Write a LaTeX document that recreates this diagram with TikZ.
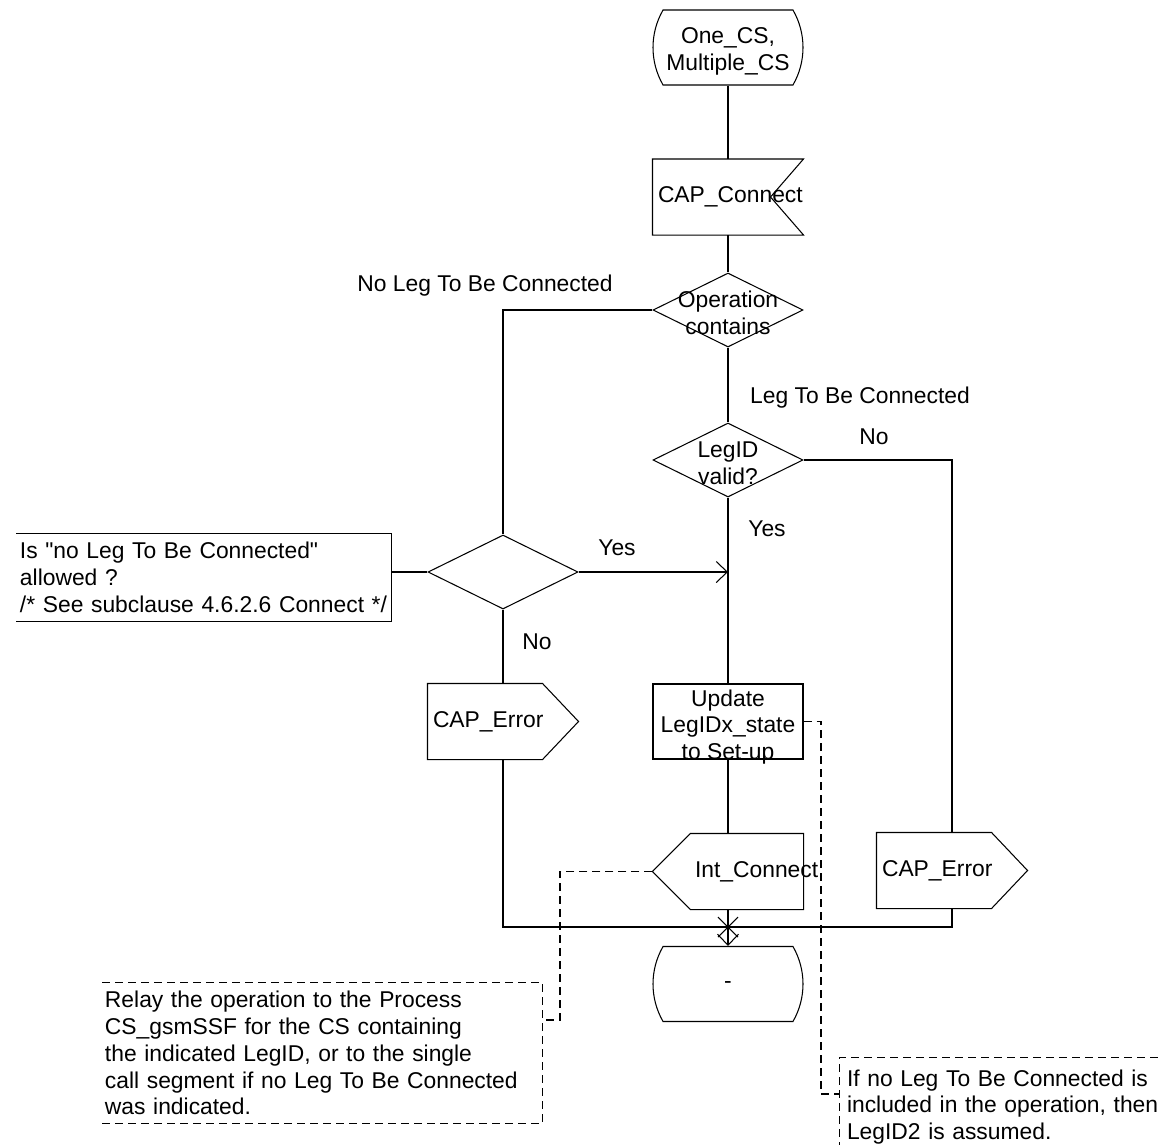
\documentclass[tikz,border=0pt]{standalone}
\usepackage{fontspec}
\setmainfont{Liberation Sans}
\usetikzlibrary{arrows.meta,shapes.geometric,shapes.misc}

\begin{document}
\begin{tikzpicture}[x=0.2mm, y=-0.2mm, line width=0.6pt,
  font=\fontsize{13}{15.3}\selectfont,
  term/.style={draw, rounded rectangle, rounded rectangle arc length=60, minimum width=30mm, minimum height=15mm, inner sep=0pt, align=center},
  sig/.style={minimum width=30mm, minimum height=15mm, inner xsep=1mm, inner ysep=0pt, text width=28mm, align=left},
  task/.style={draw, minimum width=30mm, minimum height=15mm, inner sep=0pt},
  dec/.style={draw, diamond, minimum width=30mm, minimum height=14.8mm, inner sep=0pt},
  lab/.style={align=center},
  note/.style={inner ysep=0pt, align=left},
  cline/.style={dash pattern=on 1.6mm off 1mm},
  arr/.style={-{Straight Barb[length=2.2mm, width=4.2mm]}}]
  \useasboundingbox (0,0) rectangle (1160,1144);
  % start and input signal
  \node[term] (start) at (728,47.5) {};
  \node[lab] (startT) at ([yshift=-0.8mm]start) {One\_CS,\\Multiple\_CS};
  \node[sig, align=center] (conn) at (728,197) {CAP\_Connect};
  \draw (conn.north west) -- (conn.north east) -- ([xshift=-6.6mm]conn.east) -- (conn.south east) -- (conn.south west) -- cycle;
  \draw (start) -- (conn);
  % decisions
  \node[dec] (op) at (728,310) {};
  \node[lab] (opT) at ([yshift=-0.5mm]op) {Operation\\contains};
  \node[dec] (leg) at (728,460) {};
  \node[lab] (legT) at ([yshift=-0.7mm]leg) {LegID\\valid?};
  \node[dec] (ask) at (503,572) {};
  \draw (conn) -- (op);
  \draw (op) -- (leg);
  \draw (op.west) -| (ask);
  \node[lab] (noLeg) at (485,286) {No Leg To Be Connected};
  \node[lab] (isLeg) at (860,398) {Leg To Be Connected};
  \node[lab] (legNo) at (874,437) {No};
  \node[lab] (legYes) at (767,529) {Yes};
  \node[lab] (askYes) at (617,548) {Yes};
  \node[lab] (askNo) at (537,642) {No};
  \node[note, minimum width=74.8mm, minimum height=17.4mm, inner xsep=0.6mm, text width=73.6mm] (cmt1) at (204,577.5)
    {Is \textquotedbl no Leg To Be Connected\textquotedbl\\allowed ?\\/* See subclause 4.6.2.6 Connect */};
  \draw (cmt1.north west) -- (cmt1.north east) -- (cmt1.south east) -- (cmt1.south west);
  \draw (ask.west) -- (ask.west -| cmt1.east);
  \draw[arr] (ask.east) -- (ask.east -| leg.south);
  % task and output signals
  \node[task] (upd) at (728,721.5) {};
  \node[lab] (updT) at ([yshift=-1.1mm]upd) {Update\\LegIDx\_state\\to Set-up};
  \node[sig] (errL) at (503,721.5) {CAP\_Error};
  \draw (errL.north west) -- ([xshift=-7.2mm]errL.north east) -- (errL.east) -- ([xshift=-7.2mm]errL.south east) -- (errL.south west) -- cycle;
  \node[sig] (intc) at (728,871.5) {\hspace*{7.4mm}Int\_Connect};
  \draw (intc.west) -- ([xshift=7.6mm]intc.north west) -- (intc.north east) -- (intc.south east) -- ([xshift=7.6mm]intc.south west) -- cycle;
  \node[sig] (errR) at (952,870.5) {CAP\_Error};
  \draw (errR.north west) -- ([xshift=-7.2mm]errR.north east) -- (errR.east) -- ([xshift=-7.2mm]errR.south east) -- (errR.south west) -- cycle;
  \draw (leg) -- (upd);
  \draw (upd) -- (intc);
  \draw (ask) -- (errL);
  \draw (leg.east) -| (errR);
  % join into final state
  \node[term] (stop) at (728,984) {};
  \node[lab] (stopT) at ([yshift=-0.3mm]stop) {-};
  \coordinate (join) at (728,927);
  \draw (errL) |- (join) -| (errR);
  \draw (intc) -- (join);
  \draw[arr] (join) -- (stop);
  \draw ([shift={(-10,-10)}]join) -- ([shift={(10,10)}]join) ([shift={(10,-10)}]join) -- ([shift={(-10,10)}]join);
  % comments
  \node[note, minimum width=87.8mm, minimum height=28mm, inner xsep=0.4mm, text width=87mm] (cmt2) at (322.5,1053)
    {Relay the operation to the Process\\CS\_gsmSSF for the CS containing\\the indicated LegID, or to the single\\call segment if no Leg To Be Connected\\was indicated.};
  \draw[cline] (cmt2.north west) -- (cmt2.north east) -- (cmt2.south east) -- (cmt2.south west);
  \coordinate (c2) at (560,1020);
  \draw[cline] (intc.west) -| (c2) -- (c2 -| cmt2.east);
  \node[note, minimum width=66mm, minimum height=19.6mm, inner xsep=1.4mm, text width=63.2mm] (cmt3) at (1005,1107)
    {If no Leg To Be Connected is\\included in the operation, then\\LegID2 is assumed.};
  \draw[cline] (cmt3.north east) -- (cmt3.north west) -- (cmt3.south west) -- (cmt3.south east);
  \coordinate (c3) at (821,1094);
  \draw[cline] (upd.east) -| (c3) -- (c3 -| cmt3.west);
\end{tikzpicture}
\end{document}
